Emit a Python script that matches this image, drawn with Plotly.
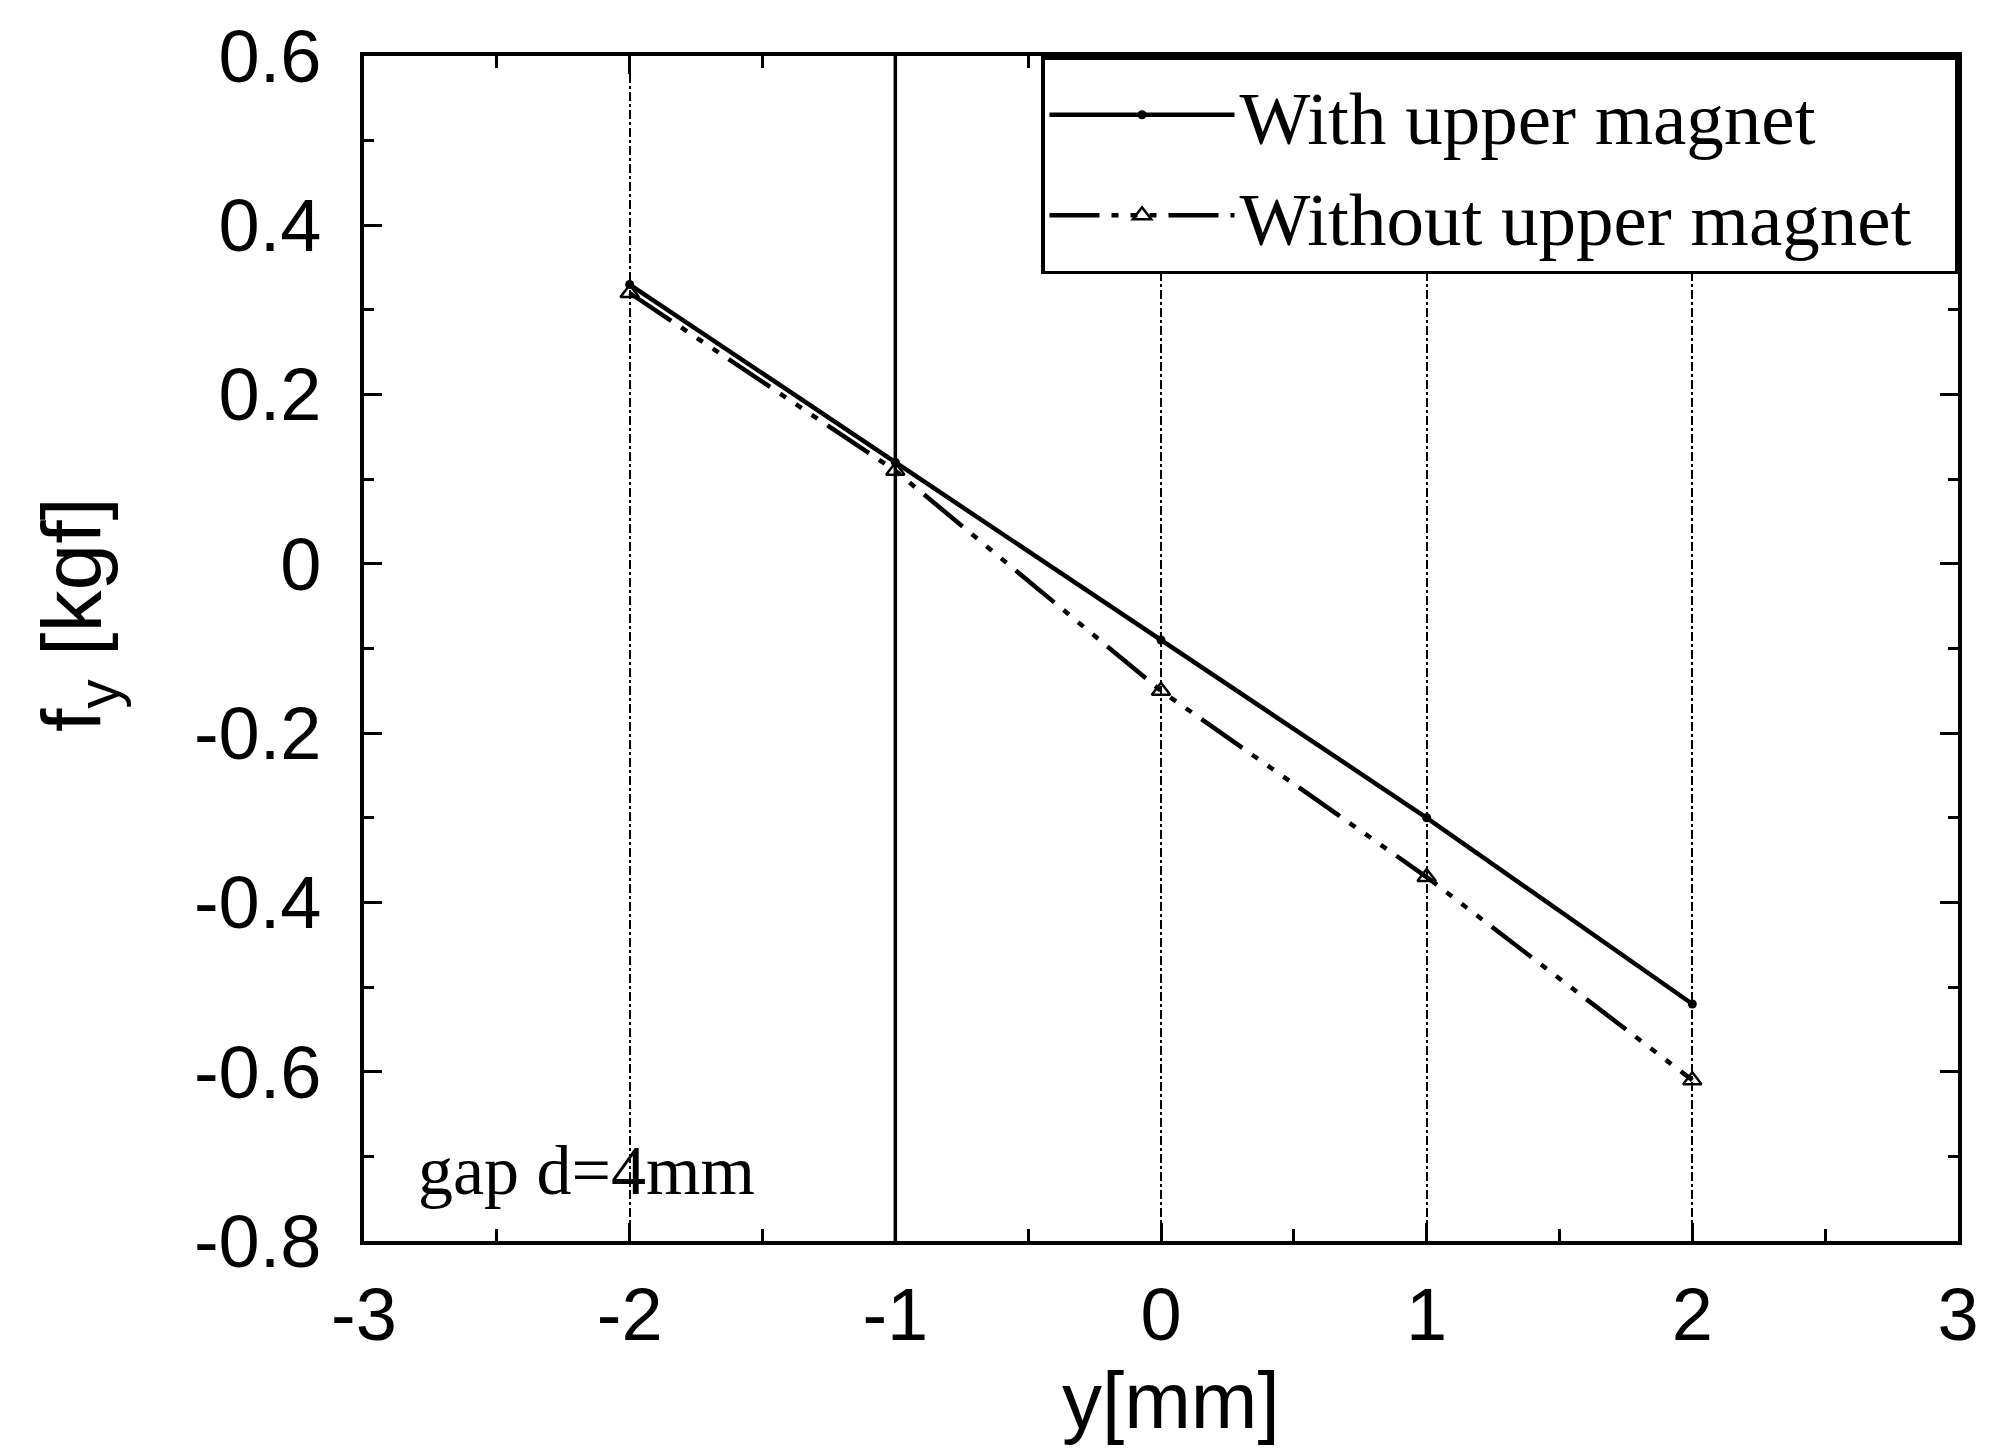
import plotly.graph_objects as go

# Data
y_pos = [-2, -1, 0, 1, 2]
with_upper = [0.33, 0.12, -0.09, -0.30, -0.52]
without_upper = [0.32, 0.11, -0.15, -0.37, -0.61]

x_ticks = [-3, -2, -1, 0, 1, 2, 3]
x_ticktext = ["-3", "-2", "-1", "0", "1", "2", "3"]
y_ticks = [0.6, 0.4, 0.2, 0, -0.2, -0.4, -0.6, -0.8]
y_ticktext = ["0.6", "0.4", "0.2", "0", "-0.2", "-0.4", "-0.6", "-0.8"]

W, H = 1998, 1453
L, R, T, B = 356, 48, 48, 220

fig = go.Figure()
fig.add_trace(go.Scatter(
    x=y_pos, y=with_upper, mode="lines+markers", name="With upper magnet\u00a0\u00a0",
    line=dict(color="black", width=4.5, dash="solid"),
    marker=dict(symbol="circle", size=9, color="black"),
))
fig.add_trace(go.Scatter(
    x=y_pos, y=without_upper, mode="lines+markers", name="Without upper magnet\u00a0\u00a0",
    line=dict(color="black", width=4.5, dash="50px,12px,7px,12px,7px,12px,7px,12px"),
    marker=dict(symbol="triangle-up-open", size=16, color="black", line=dict(width=2.5)),
))

axis_font = dict(family="Liberation Sans, Arial, sans-serif", size=74, color="black")

fig.update_xaxes(
    range=[-3, 3], tickvals=x_ticks, ticktext=x_ticktext,
    showline=True, linecolor="black", linewidth=3.5, mirror="ticks",
    ticks="inside", ticklen=18, tickwidth=2.5, tickcolor="black",
    minor=dict(dtick=0.5, tick0=0, ticks="inside", ticklen=12, tickwidth=2.5, tickcolor="black", showgrid=False),
    showgrid=True, gridcolor="black", gridwidth=2, griddash="dashdot",
    zeroline=False, tickfont=axis_font, ticklabelstandoff=6,
)
fig.update_yaxes(
    range=[-0.8, 0.6], tickvals=y_ticks, ticktext=y_ticktext,
    showline=True, linecolor="black", linewidth=3.5, mirror="ticks",
    ticks="inside", ticklen=18, tickwidth=2.5, tickcolor="black",
    minor=dict(dtick=0.1, tick0=0, ticks="inside", ticklen=10, tickwidth=2.5, tickcolor="black", showgrid=False),
    showgrid=False, zeroline=False, tickfont=axis_font, ticklabelstandoff=24,
)

fig.add_vline(x=-1, line=dict(color="black", width=3.5, dash="solid"), layer="below")

pw = W - L - R
ph = H - T - B

fig.update_layout(
    width=W, height=H,
    margin=dict(l=L, r=R, t=T, b=B, autoexpand=False),
    paper_bgcolor="white", plot_bgcolor="white",
    showlegend=True,
    legend=dict(
        x=1, y=1, xanchor="right", yanchor="top",
        bgcolor="white", bordercolor="black", borderwidth=3.5,
        font=dict(family="Liberation Serif, Times New Roman, serif", size=75, color="black"),
        itemwidth=185, tracegroupgap=0,
    ),
    annotations=[
        dict(text="y[mm]", xref="paper", yref="paper", x=(1163 - L) / pw,
             y=-(1392 - (H - B)) / ph, xanchor="center", yanchor="middle",
             showarrow=False, font=dict(family="Liberation Sans, Arial, sans-serif", size=80, color="black")),
        dict(text="f<sub>y</sub> [kgf]", xref="paper", yref="paper", x=(70 - L) / pw,
             y=((H - B) - 607) / ph, xanchor="center", yanchor="middle", textangle=-90,
             showarrow=False, font=dict(family="Liberation Sans, Arial, sans-serif", size=84, color="black")),
        dict(text="gap d=4mm", xref="paper", yref="paper", x=(408 - L) / pw,
             y=((H - B) - 1162) / ph, xanchor="left", yanchor="middle",
             showarrow=False, font=dict(family="Liberation Serif, Times New Roman, serif", size=70, color="black")),
    ],
)

fig.write_html("out.html")
